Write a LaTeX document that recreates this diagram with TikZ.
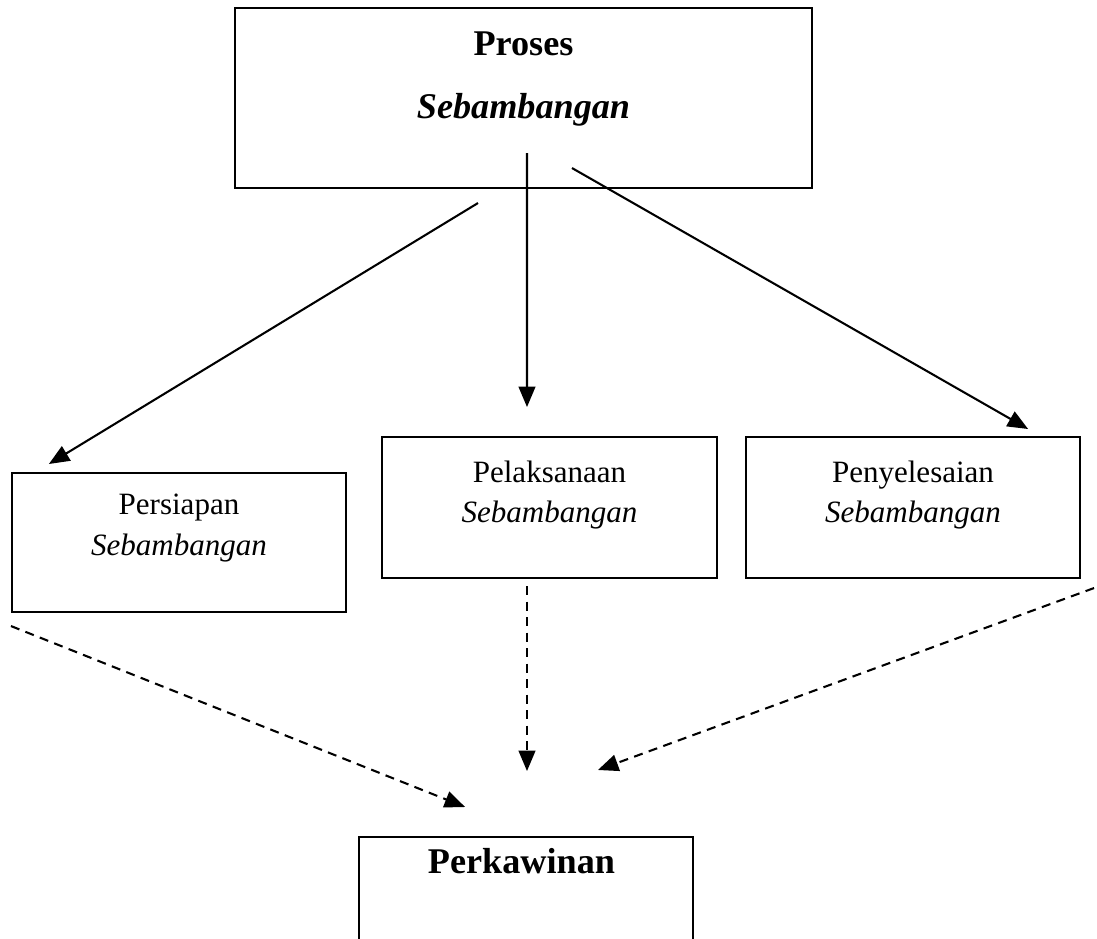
\documentclass[tikz,border=0pt]{standalone}
\usepackage{fontspec}
\setmainfont{Liberation Serif}
\usetikzlibrary{arrows}

\begin{document}
\begin{tikzpicture}[x=0.0136cm, y=-0.0136cm]
\tikzstyle{box}=[rectangle, draw=black, thick, inner sep=0pt]
\tikzstyle{txt}=[align=center, inner sep=0pt, font=\fontsize{12}{15.5}\selectfont]
\tikzstyle{bigtxt}=[align=center, inner sep=0pt, font=\fontsize{14}{24}\selectfont\bfseries]
\tikzstyle{flow}=[->, >=triangle 45, thick]
\tikzstyle{result}=[->, >=triangle 45, thick, dash pattern=on 3.5pt off 2.5pt]

\def \px {0.0136cm}

\useasboundingbox (0,0) rectangle (1097,939);
\clip (0,0) rectangle (1097,939);

    % boxes
    \node (proses) [box, minimum width=577*\px, minimum height=180*\px] at (523.5,98) {};
    \node (persiapan) [box, minimum width=334*\px, minimum height=139*\px] at (179,542.5) {};
    \node (pelaksanaan) [box, minimum width=335*\px, minimum height=141*\px] at (549.5,507.5) {};
    \node (penyelesaian) [box, minimum width=334*\px, minimum height=141*\px] at (913,507.5) {};
    \node (perkawinan) [box, minimum width=334*\px, minimum height=140*\px] at (526,907) {};

    % texts
    \node (prosestext) [bigtxt] at ([yshift=19*\px]proses.center){
            Proses\\
            \textit{Sebambangan}
    };
    \node (persiapantext) [txt] at ([yshift=14.5*\px]persiapan.center){
            Persiapan\\
            \textit{Sebambangan}
    };
    \node (pelaksanaantext) [txt] at ([yshift=12.5*\px]pelaksanaan.center){
            Pelaksanaan\\
            \textit{Sebambangan}
    };
    \node (penyelesaiantext) [txt] at ([yshift=12.5*\px]penyelesaian.center){
            Penyelesaian\\
            \textit{Sebambangan}
    };
    \node (perkawinantext) [bigtxt] at ([yshift=-25*\px]perkawinan.north){
            Perkawinan
    };

    % arrow ends
    \coordinate (fromleft) at ([shift={(-45.5,14)}]proses.south);
    \coordinate (frommid) at ([shift={(3.5,-36)}]proses.south);
    \coordinate (fromright) at ([shift={(48.5,-21)}]proses.south);
    \coordinate (toleft) at ([shift={(38,-8)}]persiapan.north west);
    \coordinate (tomid) at ([shift={(-22.5,-29)}]pelaksanaan.north);
    \coordinate (toright) at ([shift={(-53,-7)}]penyelesaian.north east);

    \coordinate (outleft) at ([shift={(0,13)}]persiapan.south west);
    \coordinate (outmid) at ([shift={(-22.5,7)}]pelaksanaan.south);
    \coordinate (outright) at ([shift={(13,9)}]penyelesaian.south east);
    \coordinate (inleft) at ([shift={(-61,-29)}]perkawinan.north);
    \coordinate (inmid) at ([shift={(1,-65)}]perkawinan.north);
    \coordinate (inright) at ([shift={(72,-66)}]perkawinan.north);

\draw[flow] (fromleft) -- (toleft);
\draw[flow] (frommid) -- (tomid);
\draw[flow] (fromright) -- (toright);

\draw[result] (outleft) -- (inleft);
\draw[result] (outmid) -- (inmid);
\draw[result] (outright) -- (inright);

\end{tikzpicture}
\end{document}
